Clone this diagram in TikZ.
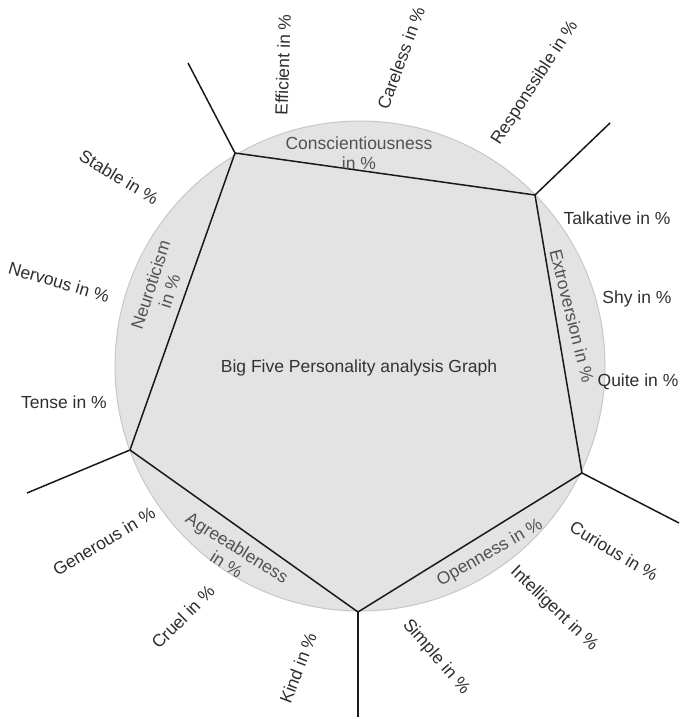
\documentclass[tikz,border=0pt]{standalone}
\usepackage{fontspec}
\setmainfont{Liberation Sans}
\usetikzlibrary{positioning, calc}

\begin{document}
\begin{tikzpicture}[
    % pixel-like units, y pointing down
    x=1pt, y=-1pt,
    every path/.style={color=black!90, line width=1.5pt},
    % Default style for nodes
    every node/.style={color=black!80, inner sep=0pt, align=center,
                       font=\fontsize{17.5}{20}\selectfont}
  ]
  % --- Frame of the picture ---
  \useasboundingbox (0,0) rectangle (689,719);

  % --- Styles ---
  \tikzstyle{disc style}=[fill=black!11, draw=black!22, line width=1pt]
  \tikzstyle{trait style}=[color=black!68]
  \tikzstyle{facet style}=[color=black!82]

  % --- Disc ---
  \def\Cx{360}   % centre x
  \def\Cy{366}   % centre y
  \def\R{245}    % radius
  \draw[disc style] (\Cx,\Cy) circle (\R);

  % --- Corners of the pentagon and free ends of the spokes ---
  \coordinate (pTL) at (235,153);
  \coordinate (pTR) at (535,195);
  \coordinate (pR)  at (582,473);
  \coordinate (pB)  at (358,612);
  \coordinate (pL)  at (130,450);

  \coordinate (eTL) at (188,63);
  \coordinate (eTR) at (610,123);
  \coordinate (eR)  at (679,523);
  \coordinate (eB)  at (358,717);
  \coordinate (eL)  at (27,493);

  \draw[line join=round] (pTL) -- (pTR) -- (pR) -- (pB) -- (pL) -- cycle;
  \foreach \p in {TL,TR,R,B,L} {
    \draw (p\p) -- (e\p);
  }

  % --- Title ---
  \node (title) at (359,368) {Big Five Personality analysis Graph};

  % --- The five traits, along the sides ---
  \node[trait style] (consc) at (359,153) {Conscientiousness\\in \%};
  \node[trait style, rotate=-76] (extro) at (572,316) {Extroversion in \%};
  \node[trait style, rotate=30] (open) at (490,553) {Openness in \%};
  \node[trait style, rotate=-32] (agree) at (232,556) {Agreeableness\\in \%};
  \node[trait style, rotate=72] (neuro) at (160,288) {Neuroticism\\in \%};

  % --- Facets round the disc ---
  \foreach \nm/\x/\y/\a/\txt in {
      eff/283/65/88/Efficient,
      care/401/58/70/Careless,
      resp/535/83/57/Responssible,
      talk/617/218/0/Talkative,
      shy/637/299/0/Shy,
      quite/638/382/0/Quite,
      cur/614/551/-31/Curious,
      intel/554/609/-44/Intelligent,
      simp/436/657/-49/Simple,
      kind/298/668/69/Kind,
      cruel/183/617/45/Cruel,
      gen/104/541/31/Generous,
      tense/64/402/0/Tense,
      nerv/59/282/-16/Nervous,
      stab/119/177/-31/Stable} {
    \node[facet style, rotate=\a] (\nm) at (\x,\y) {\txt{} in \%};
  }
\end{tikzpicture}
\end{document}
